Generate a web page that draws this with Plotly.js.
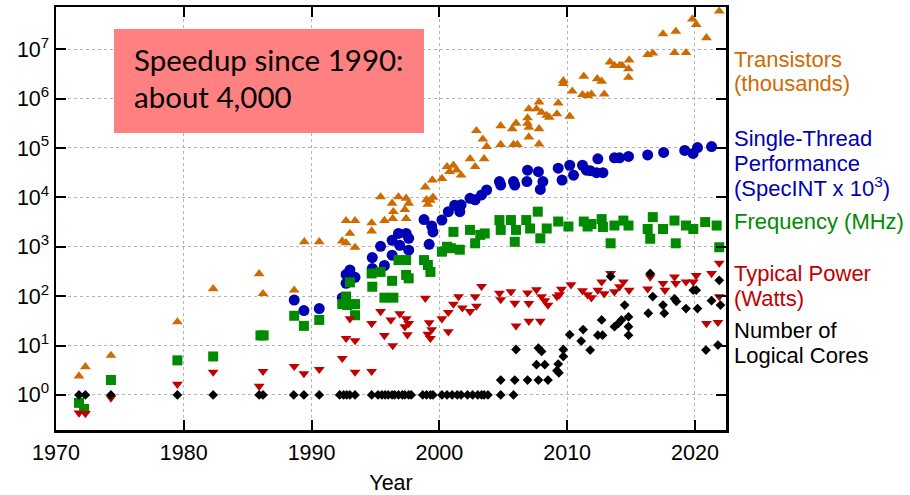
<!DOCTYPE html>
<html>
<head>
<meta charset="utf-8">
<script src="https://cdn.plot.ly/plotly-3.0.1.min.js"></script>
<style>html,body{margin:0;padding:0;background:#fff;}#chart{width:910px;height:495px;}</style>
</head>
<body>
<div id="chart"></div>
<script>
// ---------------- data ----------------
const transYears = [1971.8,1972.3,1974.3,1979.5,1982.3,1985.9,1986.2,1988.64,1989.43,1990.6,1992.4,1992.7,1992.7,1993.0,1993.4,1993.4,1994.7,1994.7,1995.4,1995.7,1996.3,1996.4,1996.35,1996.8,1997.4,1997.6,1997.3,1997.4,1998.9,1999.0,1999.3,1999.5,1999.1,1999.45,2000.2,2000.6,2000.8,2001.1,2001.35,2001.7,2002.4,2002.8,2003.5,2002.9,2003.4,2003.7,2004.8,2004.8,2005.7,2006.0,2005.8,2006.1,2006.9,2006.9,2007.0,2007.0,2007.0,2007.8,2007.8,2007.6,2008.0,2008.4,2008.6,2007.8,2009.2,2009.3,2010.2,2009.7,2009.7,2010.4,2011.2,2011.3,2011.6,2011.9,2012.35,2012.7,2012.9,2013.35,2013.7,2014.1,2014.3,2014.85,2014.8,2014.8,2016.3,2016.7,2017.5,2018.5,2018.4,2019.3,2019.8,2020.1,2020.9,2021.9];
const transValues = [2.4,3.7,6.3,30,141,283,112,132,1260,1260,1300,3380,1200,1860,3380,970,3030,2080,10200,3390,7590,5130,3720,10200,9550,7590,5620,3720,16200,8900,8700,10000,7240,22400,24000,41700,33100,44700,35500,28200,60300,41700,60300,224000,151000,107000,282000,117000,245000,316000,117000,117000,407000,316000,263000,617000,166000,245000,851000,617000,525000,457000,417000,120000,490000,813000,437000,2290000,2000000,1410000,1200000,2820000,1150000,1230000,2510000,2240000,1230000,5500000,4680000,4680000,4680000,6030000,3980000,2690000,7760000,8320000,20400000,22900000,8510000,8510000,40700000,31600000,17000000,58900000];

const perfYears = [1988.64,1989.4,1990.6,1992.4,1992.7,1992.7,1993.0,1993.4,1994.75,1994.75,1995.4,1995.7,1996.3,1996.3,1996.8,1996.9,1997.4,1997.6,1997.6,1998.8,1999.2,1999.4,1999.5,2000.2,2000.7,2001.2,2001.6,2001.7,2002.4,2002.8,2003.3,2003.7,2004.7,2004.8,2005.8,2005.9,2006.9,2006.85,2007.75,2007.9,2008.1,2009.3,2009.6,2010.2,2010.5,2011.2,2011.5,2011.8,2012.3,2012.8,2012.4,2013.7,2014.1,2014.8,2016.3,2017.55,2019.2,2019.85,2020.2,2021.3];
const perfValues = [83,51,56,93,182,275,339,240,363,603,1020,417,1350,676,1860,1070,1860,1480,851,3550,1120,2630,2000,3470,5130,6920,5130,7080,9550,8910,11200,14100,20900,17800,20900,17800,35500,20900,33100,14500,20900,38900,22400,44700,28200,44700,35500,34700,31600,31600,60300,63100,63100,67600,72400,81300,89100,77600,102000,107000];

const freqYears = [1971.8,1972.2,1974.3,1979.5,1982.3,1986.0,1986.25,1988.64,1989.4,1990.6,1992.4,1992.7,1992.8,1993.4,1993.4,1993.0,1994.75,1994.7,1995.4,1995.7,1996.4,1996.3,1996.8,1997.4,1997.4,1997.6,1998.8,1999.1,1999.3,2000.2,2000.6,2001.1,2000.9,2001.6,2002.4,2002.8,2003.2,2003.55,2004.7,2004.8,2005.6,2005.9,2006.0,2006.8,2007.1,2007.7,2007.9,2008.4,2009.3,2010.1,2011.3,2011.6,2011.9,2012.7,2012.8,2013.4,2013.7,2014.4,2014.8,2016.3,2016.7,2016.5,2017.5,2018.4,2018.5,2019.3,2019.87,2020.8,2021.7,2021.9];
const freqValues = [0.69,0.52,2,5,6,16,16,40,25,33,69,98,66,69,41,190,155,288,309,93,93,204,537,537,269,229,537,427,309,794,1000,2000,933,871,2190,1175,1740,1860,3470,2190,3470,1260,2190,3470,2340,5130,1480,2340,3240,2570,3240,2570,2880,3630,2510,1175,2690,3390,2690,2290,3980,1450,2290,3390,1175,2690,2290,3160,2690,977];

const powerYears = [1971.8,1972.3,1974.3,1979.5,1982.3,1985.9,1986.2,1988.64,1989.4,1990.6,1992.4,1993.0,1992.7,1993.4,1993.4,1994.7,1994.7,1995.4,1995.7,1996.2,1996.35,1996.9,1997.4,1997.6,1997.3,1997.5,1998.9,1999.2,1999.4,1999.3,1999.1,2000.2,2000.7,2001.1,2001.5,2000.7,2001.8,2002.4,2002.8,2002.9,2003.3,2004.7,2004.8,2005.6,2005.9,2006.0,2006.9,2007.0,2007.0,2007.9,2007.6,2008.0,2008.25,2008.5,2009.2,2009.4,2009.55,2010.3,2011.2,2011.6,2011.9,2012.4,2012.7,2012.9,2013.4,2013.7,2014.1,2014.4,2014.85,2016.3,2016.5,2017.5,2017.65,2018.4,2018.5,2019.3,2019.87,2020.1,2021.3,2021.9,2021.9,2020.9,2021.8];
const powerValues = [0.43,0.42,0.87,1.65,2.9,1.5,3,3.8,2.7,3.3,5.5,35,14,12.6,2.9,28,3,49,16,33,10,44,35,28,24,16.6,91,29,21,14,17,35,47,69,98,19,58,49,98,63,158,115,85,123,72,25,117,71,31,31,135,98,81,66,98,107,138,170,129,107,93,132,195,112,288,123,155,195,132,141,245,182,132,245,182,195,195,263,288,468,98,28,29.5];

const coreYears = [1971.8,1972.3,1974.3,1979.5,1982.3,1985.9,1986.2,1988.6,1989.4,1990.6,1992.2,1992.5,1992.75,1993.0,1993.4,1994.7,1995.2,1995.5,1995.75,1996.0,1996.3,1996.5,1996.8,1997.1,1997.3,1997.6,1997.8,1998.7,1999.0,1999.3,1999.5,2000.2,2000.6,2001.0,2001.4,2001.7,2002.2,2002.6,2003.0,2003.3,2003.5,2003.8,2004.8,2005.8,2004.8,2005.9,2006.9,2007.75,2008.5,2006.0,2007.75,2008.0,2007.6,2008.25,2009.3,2009.2,2009.35,2009.7,2009.7,2010.2,2011.25,2011.1,2011.8,2012.4,2012.77,2012.7,2013.7,2014.0,2014.25,2014.5,2014.8,2014.8,2014.8,2013.4,2016.35,2016.5,2016.7,2017.5,2017.6,2018.4,2018.55,2019.3,2019.87,2020.1,2020.2,2020.86,2021.3,2021.8,2021.9,2022.0];
const coreValues = [1,1,1,1,1,1,1,1,1,1,1,1,1,1,1,1,1,1,1,1,1,1,1,1,1,1,1,1,1,1,1,1,1,1,1,1,1,1,1,1,1,1,1,1,2,2,2,2,2,8.3,8.9,7.6,4.1,4.1,4.2,3.1,2.8,8.3,6,16.6,21,12.3,8.1,16.2,16.2,33,24,28,33,66,38,24,16.2,251,45,288,98,66,45,89,78,56,132,132,56,8.1,81,10.2,209,66];

const yTickVals = [1,10,100,1000,10000,100000,1000000,10000000];
const yTickText = ['10<sup>0</sup>','10<sup>1</sup>','10<sup>2</sup>','10<sup>3</sup>','10<sup>4</sup>','10<sup>5</sup>','10<sup>6</sup>','10<sup>7</sup>'];
const xTickVals = [1970,1980,1990,2000,2010,2020];

const seriesLabels = [
  {lines:['Transistors','(thousands)'], color:'#cf6a00', ys:[60,83]},
  {lines:['Single-Thread','Performance','(SpecINT x 10<sup>3</sup>)'], color:'#0000b4', ys:[138,163,187]},
  {lines:['Frequency (MHz)'], color:'#008a00', ys:[222]},
  {lines:['Typical Power','(Watts)'], color:'#c00000', ys:[273,298]},
  {lines:['Number of','Logical Cores'], color:'#000000', ys:[330,355]}
];
const boxLines = ['Speedup since 1990:','about 4,000'];

// ---------------- layout geometry ----------------
const W = 910, H = 495;
const M = {l:56, r:184, t:7, b:65};
const plotH = H - M.t - M.b;
const plotW = W - M.l - M.r;
const py = p => (H - M.b - p) / plotH;   // pixel y -> paper y
const px = p => (p - M.l) / plotW;       // pixel x -> paper x

const FONT = 'Liberation Sans, Arial, sans-serif';

function tr(x, y, sym, color, size) {
  return {x:x, y:y, type:'scatter', mode:'markers', hoverinfo:'skip',
    marker:{symbol:sym, color:color, size:size, line:{width:0}}};
}
const data = [
  tr(transYears, transValues, 'triangle-up', '#cf6a00', 9.5),
  tr(perfYears, perfValues, 'circle', '#0000b4', 11),
  tr(freqYears, freqValues, 'square', '#008a00', 10),
  tr(powerYears, powerValues, 'triangle-down', '#c00000', 9.5),
  tr(coreYears, coreValues, 'diamond', '#000000', 7.5)
];

const annotations = [];
seriesLabels.forEach(s => {
  s.lines.forEach((t, i) => {
    annotations.push({xref:'paper', yref:'paper', x:px(732), y:py(s.ys[i]), xanchor:'left', yanchor:'middle',
      text:t, showarrow:false, font:{family:FONT, size:22, color:s.color}});
  });
});
const boxYs = [60, 97];
boxLines.forEach((t, i) => {
  annotations.push({xref:'paper', yref:'paper', x:px(132), y:py(boxYs[i]), xanchor:'left', yanchor:'middle',
    text:t, showarrow:false, font:{family:'Lato, sans-serif', size:29.5, color:'#000'}});
});

const axisCommon = {
  showline:true, linecolor:'#000', linewidth:2.5, mirror:'allticks',
  ticks:'inside', ticklen:10, tickwidth:2, tickcolor:'#000',
  showgrid:true, gridcolor:'#b4b4b4', gridwidth:1, griddash:'dot',
  zeroline:false, tickfont:{family:FONT, size:21.5, color:'#000'}
};

const layout = {
  width:W, height:H, margin:M, paper_bgcolor:'#fff', plot_bgcolor:'#fff', showlegend:false,
  xaxis:Object.assign({}, axisCommon, {range:[1970, 2022.43], tickmode:'array', tickvals:xTickVals,
    ticktext:xTickVals.map(String), ticklabelstandoff:2,
    title:{text:'Year', font:{family:FONT, size:21.5, color:'#000'}, standoff:18}}),
  yaxis:Object.assign({}, axisCommon, {type:'log', range:[-0.711, 7.855], tickmode:'array', tickvals:yTickVals, ticktext:yTickText}),
  shapes:[{type:'rect', xref:'paper', yref:'paper', x0:px(114), x1:px(424), y0:py(133), y1:py(29),
    fillcolor:'#ff8080', line:{width:0}, layer:'above'}],
  annotations:annotations
};

Plotly.newPlot('chart', data, layout, {displayModeBar:false, staticPlot:true});
</script>
</body>
</html>
